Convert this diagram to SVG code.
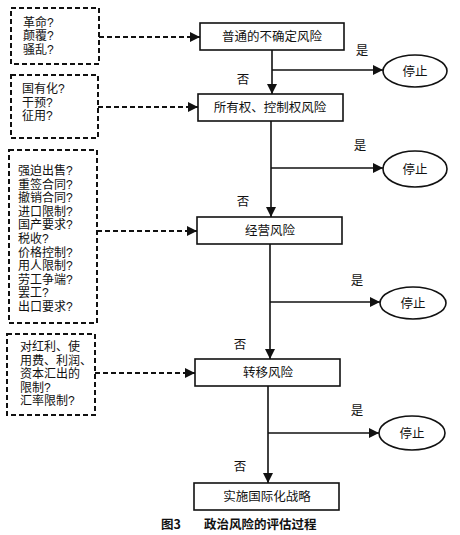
<svg xmlns="http://www.w3.org/2000/svg" width="460" height="535" viewBox="0 0 460 535">
<defs>
<marker id="ah" viewBox="0 0 10 10" refX="10" refY="5" markerWidth="10" markerHeight="10" markerUnits="userSpaceOnUse" orient="auto">
<path d="M0,0 L10,5 L0,10 z" fill="#111"/>
</marker>
<style>
.t{font-family:"Noto Sans CJK SC","Noto Sans",sans-serif;font-size:12.5px;fill:#111}
.s{font-family:"Liberation Sans","Noto Sans CJK SC",sans-serif;font-size:12px}
.c{text-anchor:middle}
.box{fill:#fff;stroke:#111;stroke-width:1.6}
.dbox{fill:none;stroke:#111;stroke-width:2;stroke-dasharray:5,3}
.ln{fill:none;stroke:#111;stroke-width:1.6}
.dl{fill:none;stroke:#111;stroke-width:2;stroke-dasharray:5,3}
.el{fill:#fff;stroke:#111;stroke-width:1.6}
</style>
</defs>
<rect width="460" height="535" fill="#fff"/>

<g id="connectors">
<path class="dl" d="M99,37 H200" marker-end="url(#ah)"/>
<path class="dl" d="M98,107 H198" marker-end="url(#ah)"/>
<path class="dl" d="M97,231 H197" marker-end="url(#ah)"/>
<path class="dl" d="M95,373 H195" marker-end="url(#ah)"/>
<path class="ln" d="M272,50 V94" marker-end="url(#ah)"/>
<path class="ln" d="M272,70 H383" marker-end="url(#ah)"/>
<path class="ln" d="M271,121 V217" marker-end="url(#ah)"/>
<path class="ln" d="M271,168 H383" marker-end="url(#ah)"/>
<path class="ln" d="M270,244 V359" marker-end="url(#ah)"/>
<path class="ln" d="M270,302 H380" marker-end="url(#ah)"/>
<path class="ln" d="M268,386 V483" marker-end="url(#ah)"/>
<path class="ln" d="M268,433 H379" marker-end="url(#ah)"/>
<text class="t c" x="362" y="55">是</text>
<text class="t c" x="243" y="84">否</text>
<text class="t c" x="360" y="150">是</text>
<text class="t c" x="243" y="206">否</text>
<text class="t c" x="357" y="285">是</text>
<text class="t c" x="240" y="349">否</text>
<text class="t c" x="357" y="415">是</text>
<text class="t c" x="240" y="471">否</text>
</g>

<g id="q1">
<rect class="dbox" x="11" y="8" width="88" height="56"/>
<text class="t s" x="23" y="26.5">革命?</text>
<text class="t s" x="23" y="40">颠覆?</text>
<text class="t s" x="23" y="53.5">骚乱?</text>
</g>
<g id="q2">
<rect class="dbox" x="11" y="75" width="87" height="63"/>
<text class="t s" x="22" y="93">国有化?</text>
<text class="t s" x="22" y="106.5">干预?</text>
<text class="t s" x="22" y="120">征用?</text>
</g>
<g id="q3">
<rect class="dbox" x="9" y="150" width="88" height="173"/>
<text class="t s" x="18" y="175">强迫出售?</text>
<text class="t s" x="18" y="188.6">重签合同?</text>
<text class="t s" x="18" y="202.2">撤销合同?</text>
<text class="t s" x="18" y="215.8">进口限制?</text>
<text class="t s" x="18" y="229.4">国产要求?</text>
<text class="t s" x="18" y="243">税收?</text>
<text class="t s" x="18" y="256.6">价格控制?</text>
<text class="t s" x="18" y="270.2">用人限制?</text>
<text class="t s" x="18" y="283.8">劳工争端?</text>
<text class="t s" x="18" y="297.4">罢工?</text>
<text class="t s" x="18" y="311">出口要求?</text>
</g>
<g id="q4">
<rect class="dbox" x="7" y="334" width="88" height="81"/>
<text class="t s" x="20" y="351">对红利、使</text>
<text class="t s" x="20" y="364.5">用费、利润、</text>
<text class="t s" x="20" y="378">资本汇出的</text>
<text class="t s" x="20" y="391.5">限制?</text>
<text class="t s" x="20" y="405">汇率限制?</text>
</g>

<g id="n1">
<rect class="box" x="200" y="23" width="144" height="27"/>
<text class="t c" x="272" y="41">普通的不确定风险</text>
</g>
<g id="n2">
<rect class="box" x="198" y="94" width="145" height="27"/>
<text class="t c" x="270" y="112">所有权、控制权风险</text>
</g>
<g id="n3">
<rect class="box" x="197" y="217" width="145" height="27"/>
<text class="t c" x="270" y="235">经营风险</text>
</g>
<g id="n4">
<rect class="box" x="195" y="359" width="145" height="27"/>
<text class="t c" x="268" y="377">转移风险</text>
</g>
<g id="n5">
<rect class="box" x="194" y="483" width="145" height="27"/>
<text class="t c" x="267" y="501">实施国际化战略</text>
</g>

<g id="s1">
<ellipse class="el" cx="415" cy="71" rx="32" ry="16"/>
<text class="t c" x="415" y="75.5">停止</text>
</g>
<g id="s2">
<ellipse class="el" cx="415" cy="169" rx="32" ry="18"/>
<text class="t c" x="415" y="173.5">停止</text>
</g>
<g id="s3">
<ellipse class="el" cx="413" cy="303" rx="33" ry="16"/>
<text class="t c" x="413" y="307.5">停止</text>
</g>
<g id="s4">
<ellipse class="el" cx="412" cy="433" rx="33" ry="17"/>
<text class="t c" x="412" y="437.5">停止</text>
</g>

<g id="caption">
<text class="t" x="161" y="529" font-weight="bold" font-size="12">图3</text>
<text class="t" x="204" y="529" font-weight="bold" font-size="12">政治风险的评估过程</text>
</g>
</svg>
